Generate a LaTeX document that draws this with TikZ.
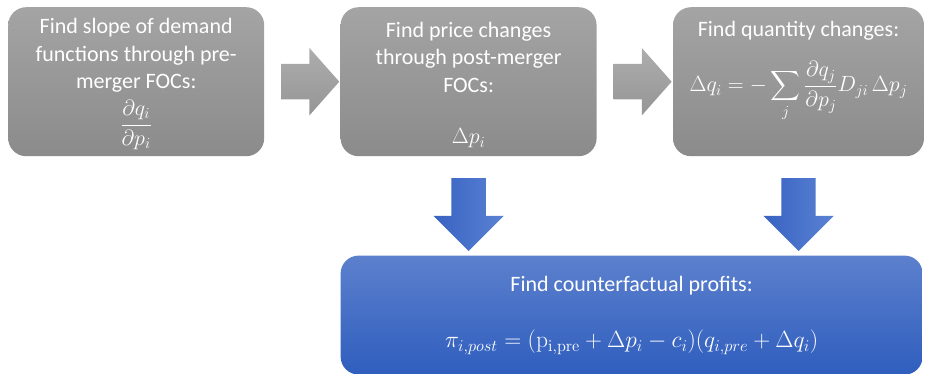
\documentclass[tikz,border=0pt]{standalone}
\usepackage{fix-cm}
\usepackage{amsmath}
\usepackage[no-math]{fontspec}
\setmainfont{Carlito}
\usetikzlibrary{shapes.arrows, positioning, calc}
\definecolor{boxtop}{HTML}{A4A4A4}
\definecolor{boxbot}{HTML}{8B8B8B}
\definecolor{greytop}{HTML}{ADADAD}
\definecolor{greybot}{HTML}{959595}
\definecolor{bluetop}{HTML}{5C80CD}
\definecolor{bluebot}{HTML}{2F5EBE}
\definecolor{blueleft}{HTML}{3862C2}
\definecolor{blueright}{HTML}{5A82D3}
\newcommand\boxfont{\fontsize{22}{27.5}\selectfont}
\newcommand\pushdown[1]{\rule{0pt}{#1}}% taller first line moves the text down
\newcommand\pushup[1]{\rule[-#1]{0pt}{#1}}% deeper last line moves the text up
\tikzstyle{graybox} = [rectangle, rounded corners=18pt, minimum width=256pt, minimum height=149pt, top color=boxtop, bottom color=boxbot, text=white, align=center, font=\boxfont]
\tikzstyle{resultbox} = [graybox, minimum width=582pt, minimum height=119pt, top color=bluetop, bottom color=bluebot]
\tikzset{
	rightarrow/.style = {single arrow, inner sep=0pt, minimum width=0pt,
		text width=35pt, text height=17.5pt, text depth=17.5pt,
		minimum height=58pt, single arrow head extend=16pt, single arrow tip angle=97,
		top color=greytop, bottom color=greybot},
	downarrow/.style = {single arrow, shape border rotate=270, inner sep=0pt, minimum width=0pt,
		text width=34pt, text height=17pt, text depth=17pt,
		minimum height=73pt, single arrow head extend=18pt,
		left color=blueleft, right color=blueright},
}

\begin{document}
\begin{tikzpicture}
\useasboundingbox (0,0) rectangle (925pt,-374pt);
% Placement of flowchart boxes
\node (slope) [graybox, anchor=north west] at (8pt,-7pt) {\pushdown{20pt}Find slope of demand\\functions through pre-\\merger FOCs:\\[7pt]$\dfrac{\partial q_i}{\partial p_i}$};
\node (price) [graybox, right=76pt of slope] {\pushdown{22pt}Find price changes\\through post-merger\\FOCs:\\[24pt]$\Delta p_i$};
\node (qty) [graybox, right=76pt of price, minimum width=251pt] {Find quantity changes:\\[20pt]$\displaystyle \Delta q_i = -\sum_j \frac{\partial q_j}{\partial p_j} D_{ji}\,\Delta p_j$\pushup{50pt}};
\node (profit) [resultbox, below=99pt of price.south west, anchor=north west] {\pushdown{16pt}Find counterfactual profits:\\[28pt]{\fontsize{23.5}{28}\selectfont$\pi_{i,post} = (\mathrm{p}_{\mathrm{i,pre}} + \Delta p_i - c_i)(q_{i,pre} + \Delta q_i)$}};

% Block arrows between the boxes
\node (step1) [rightarrow] at ($(slope.east)!0.5!(price.west)$) {};
\node (step2) [rightarrow] at ($(price.east)!0.5!(qty.west)$) {};
\node (down1) [downarrow] at ($(price.south)!0.5!(price.south |- profit.north)$) {};
\node (down2) [downarrow] at ($(qty.south)!0.5!(qty.south |- profit.north)$) {};

\end{tikzpicture}
\end{document}
